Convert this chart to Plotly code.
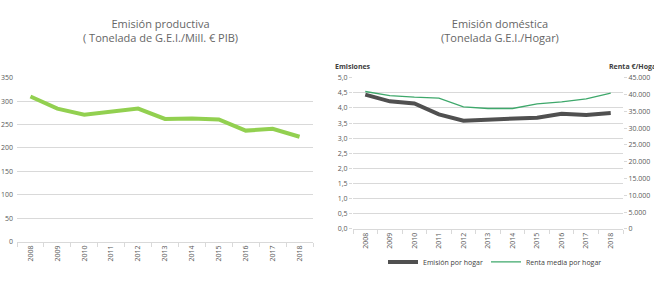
import plotly.graph_objects as go

years = ["2008", "2009", "2010", "2011", "2012", "2013", "2014", "2015", "2016", "2017", "2018"]
emision_productiva = [310, 284, 271, 278, 284, 262, 263, 261, 237, 241, 224]
emision_hogar = [4.44, 4.22, 4.15, 3.79, 3.58, 3.62, 3.63, 3.68, 3.81, 3.77, 3.83]
renta_hogar = [40900, 39700, 39200, 38900, 36300, 35850, 35850, 37200, 37800, 38700, 40400]

left_ticks = [0, 50, 100, 150, 200, 250, 300, 350]
hog_ticks = [0, 0.5, 1, 1.5, 2, 2.5, 3, 3.5, 4, 4.5, 5]
hog_labels = ["0,0", "0,5", "1,0", "1,5", "2,0", "2,5", "3,0", "3,5", "4,0", "4,5", "5,0"]
renta_ticks = [0, 5000, 10000, 15000, 20000, 25000, 30000, 35000, 40000, 45000]
renta_labels = ["0", "5.000", "10.000", "15.000", "20.000", "25.000", "30.000", "35.000", "40.000", "45.000"]

W, H = 654, 296
FONT = "Open Sans"
TXT = "#595959"
GRID = "#d9d9d9"

fig = go.Figure()

fig.add_trace(go.Scatter(x=years, y=emision_productiva, mode="lines",
                         line=dict(color="#92D050", width=4), showlegend=False,
                         xaxis="x", yaxis="y"))
fig.add_trace(go.Scatter(x=years, y=emision_hogar, mode="lines", name="Emisión por hogar",
                         line=dict(color="#505050", width=4), xaxis="x2", yaxis="y2",
                         legend="legend"))
fig.add_trace(go.Scatter(x=years, y=renta_hogar, mode="lines", name="Renta media por hogar",
                         line=dict(color="#3EA86B", width=1.3), xaxis="x2", yaxis="y3",
                         legend="legend2"))

def px_x(p):
    return p / W

def px_y(p):
    return 1 - p / H

xcommon = dict(type="category", range=[-0.5, len(years) - 0.5], tickangle=-90,
               tickson="boundaries", ticks="outside",
               ticklen=4, tickcolor=GRID, showline=True, linecolor=GRID, linewidth=1,
               showgrid=False, tickfont=dict(family=FONT, size=7, color=TXT), fixedrange=True)

legcommon = dict(orientation="h", xanchor="left", yanchor="top", itemwidth=30,
                 font=dict(family=FONT, size=7, color="#404040"), bgcolor="rgba(0,0,0,0)")

def title(text, x, y):
    return dict(text=text, x=px_x(x), y=px_y(y), xref="paper", yref="paper",
                showarrow=False, xanchor="center", yanchor="middle", align="center",
                font=dict(family=FONT, size=11, color="#666666"))

fig.update_layout(
    width=W, height=H, margin=dict(l=0, r=0, t=0, b=0),
    paper_bgcolor="white", plot_bgcolor="white",
    font=dict(family=FONT, color=TXT),
    xaxis=dict(domain=[px_x(17), px_x(313)], anchor="y", **xcommon),
    yaxis=dict(domain=[px_y(244), px_y(75)], anchor="x", range=[0, 350],
               tickvals=left_ticks, ticktext=[str(v) for v in left_ticks],
               showgrid=True, gridcolor=GRID, gridwidth=1, zeroline=False,
               showline=False, ticks="", ticklabelstandoff=3,
               tickfont=dict(family=FONT, size=7, color=TXT)),
    xaxis2=dict(domain=[px_x(353), px_x(623)], anchor="y2", **xcommon),
    yaxis2=dict(domain=[px_y(231), px_y(75)], anchor="x2", range=[0, 5],
                tickvals=hog_ticks, ticktext=hog_labels,
                showgrid=True, gridcolor=GRID, gridwidth=1, zeroline=False,
                showline=False, ticks="outside", ticklen=3, tickcolor=GRID,
                tickfont=dict(family=FONT, size=7, color=TXT)),
    yaxis3=dict(overlaying="y2", side="right", anchor="x2", range=[0, 45000],
                tickvals=renta_ticks, ticktext=renta_labels,
                showgrid=False, zeroline=False, showline=False,
                ticks="outside", ticklen=3, tickcolor=GRID,
                tickfont=dict(family=FONT, size=7, color=TXT)),
    legend=dict(x=px_x(383), y=px_y(250), **legcommon),
    legend2=dict(x=px_x(486), y=px_y(250), **legcommon),
    annotations=[
        title("Emisión productiva<br>( Tonelada de G.E.I./Mill. € PIB)", 160, 26),
        title("Emisión doméstica<br>(Tonelada G.E.I./Hogar)", 500, 26),
        dict(text="<b>Emisiones</b>", x=px_x(333), y=px_y(63), xref="paper", yref="paper",
             showarrow=False, xanchor="left", yanchor="middle",
             font=dict(family=FONT, size=7, color="#404040")),
        dict(text="<b>Renta €/Hogar</b>", x=px_x(607), y=px_y(63), xref="paper", yref="paper",
             showarrow=False, xanchor="left", yanchor="middle",
             font=dict(family=FONT, size=7, color="#404040")),
    ],
)

fig.write_html("out.html")
